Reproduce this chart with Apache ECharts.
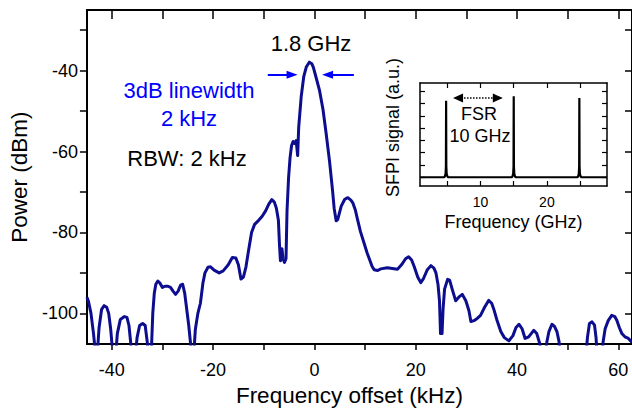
<!DOCTYPE html>
<html>
<head>
<meta charset="utf-8">
<script src="https://cdn.jsdelivr.net/npm/echarts@6/dist/echarts.min.js"></script>
<style>
html,body{margin:0;padding:0;background:#fff;}
#chart{width:632px;height:412px;}
</style>
</head>
<body>
<div id="chart"></div>
<script>
// ---- main spectrum (frequency offset kHz, power dBm) ----
var freqOffset = [-44.9,-44.6,-44.1,-43.6,-43.2,-42.8,-42.5,-42.0,-41.5,-41.0,-40.6,-40.2,-39.8,-39.2,-38.9,-38.3,-37.5,-37.0,-36.6,-36.2,-35.8,-35.3,-35.0,-34.5,-33.9,-33.4,-33.0,-32.6,-32.2,-31.9,-31.6,-31.3,-30.9,-30.5,-30.0,-29.5,-28.9,-28.4,-27.9,-27.4,-26.9,-26.4,-26.0,-25.6,-25.3,-24.8,-24.4,-23.9,-23.5,-23.0,-22.5,-22.0,-21.6,-21.0,-20.5,-19.8,-18.8,-18.0,-17.0,-16.2,-15.5,-15.0,-14.5,-14.0,-13.5,-13.0,-12.4,-11.8,-11.0,-10.3,-9.6,-9.0,-8.4,-7.9,-7.5,-7.1,-6.9,-6.7,-6.4,-6.2,-5.9,-5.6,-5.4,-5.1,-4.8,-4.5,-4.2,-3.9,-3.6,-3.3,-3.1,-2.6,-2.1,-1.6,-1.0,-0.5,-0.2,0.3,1.0,1.7,2.3,3.0,3.6,3.9,4.3,4.6,5.3,6.0,6.6,7.2,7.6,8.1,8.5,9.1,9.8,10.4,10.8,11.4,11.8,12.5,13.1,14.4,15.4,16.4,17.2,18.0,18.6,19.2,19.7,20.4,21.0,21.5,22.3,23.0,23.6,24.0,24.4,24.7,24.9,25.2,25.4,25.7,26.3,26.7,27.2,27.9,28.5,29.2,29.9,30.5,30.9,31.5,32.2,32.8,33.6,34.4,35.0,35.4,36.0,36.8,37.5,38.4,39.2,39.8,40.4,41.0,41.6,42.3,43.3,43.9,44.5,44.9,45.5,45.9,46.3,46.9,47.4,47.9,48.3,48.7,53.5,53.9,54.3,54.8,55.3,55.6,55.9,56.7,57.0,57.4,58.0,58.7,59.3,59.7,60.2,60.7,61.3,62.0,62.7];
var powerDbm = [-96.0,-97.0,-100.0,-105.0,-110.0,-109.0,-103.5,-99.0,-98.1,-98.5,-100.0,-104.0,-110.0,-110.0,-105.0,-101.5,-100.8,-101.0,-103.0,-108.0,-112.0,-110.0,-106.0,-103.0,-102.5,-103.0,-107.0,-112.0,-110.0,-100.0,-95.0,-92.8,-92.0,-92.5,-93.6,-93.3,-93.3,-93.6,-94.5,-95.3,-94.5,-93.0,-92.8,-95.0,-98.0,-103.0,-108.0,-112.0,-104.0,-100.0,-97.5,-92.5,-90.0,-88.6,-88.5,-89.3,-90.0,-89.5,-88.0,-86.2,-86.3,-88.0,-91.5,-91.0,-88.5,-84.5,-80.0,-78.0,-77.0,-76.0,-74.6,-73.0,-71.9,-72.5,-74.0,-77.0,-82.8,-87.0,-84.0,-86.5,-87.4,-86.5,-74.7,-66.6,-61.5,-58.5,-57.5,-58.0,-57.3,-61.0,-54.1,-46.4,-41.5,-39.1,-37.9,-38.3,-39.2,-41.5,-44.8,-49.6,-55.3,-62.5,-69.8,-74.0,-77.1,-76.8,-73.5,-71.8,-71.4,-72.0,-72.7,-74.5,-76.7,-79.8,-82.6,-85.0,-86.4,-88.4,-89.2,-89.4,-89.0,-88.7,-88.9,-89.1,-88.0,-86.5,-86.0,-86.8,-88.4,-91.0,-92.4,-91.5,-89.2,-88.2,-88.8,-90.0,-92.8,-97.0,-105.0,-105.0,-99.0,-94.0,-91.6,-91.8,-94.0,-96.9,-96.0,-95.3,-96.9,-99.3,-102.0,-101.8,-101.2,-100.5,-98.5,-96.8,-97.5,-98.9,-101.5,-104.5,-106.0,-106.8,-105.5,-103.5,-102.7,-103.8,-106.2,-105.8,-104.2,-105.0,-107.5,-111.0,-111.0,-107.0,-104.5,-102.7,-103.2,-104.6,-107.0,-112.0,-112.0,-106.0,-102.5,-102.1,-102.9,-106.0,-112.0,-112.0,-107.0,-103.8,-101.8,-100.5,-100.8,-101.7,-103.5,-105.0,-105.8,-106.2,-107.2];

// ---- inset: SFPI signal vs frequency (GHz) ----
var insetFreq = [0.86,4.5,4.62,4.72,4.77,4.8,4.83,4.88,4.98,5.1,14.7,14.82,14.92,14.97,15.0,15.03,15.08,15.18,15.3,24.6,24.72,24.82,24.87,24.9,24.93,24.98,25.08,25.2,29.07];
var insetSignal = [0,0,0.08,0.3,0.9,6.23,0.9,0.3,0.08,0,0,0.08,0.3,0.9,6.59,0.9,0.3,0.08,0,0,0.08,0.3,0.9,6.45,0.9,0.3,0.08,0,0];

// ---- ticks / labels ----
var xTicks = [-40,-30,-20,-10,0,10,20,30,40,50,60];
var xLabels = [-40,-20,0,20,40,60];
var yTicks = [-100,-90,-80,-70,-60,-50,-40,-30];
var yLabels = [-100,-80,-60,-40];
var insetXTicks = [5,10,15,20,25];
var insetXLabels = [10,20];
var insetYTicks = [0,1,2,3,4,5,6,7];

var FONT = '"Liberation Sans", Arial, Helvetica, sans-serif';
var mainColor = '#0d0d8f';

var chart = echarts.init(document.getElementById('chart'), null, {renderer: 'svg'});

function axisBase(extra) {
  var o = {
    type: 'value',
    splitLine: {show: false},
    axisLine: {show: true, onZero: false, lineStyle: {color: '#000', width: 2}},
    axisTick: {show: true, lineStyle: {color: '#000', width: 1.5}},
    axisLabel: {show: false}
  };
  for (var k in extra) o[k] = extra[k];
  return o;
}

var option = {
  animation: false,
  backgroundColor: '#fff',
  textStyle: {fontFamily: FONT},
  grid: [
    {left: 85, top: 10, right: 0, bottom: 61},
    {left: 420, top: 83, width: 187, height: 103}
  ],
  xAxis: [
    axisBase({
      gridIndex: 0, position: 'bottom', min: -44.9, max: 62.7,
      axisTick: {show: true, inside: false, length: 6, customValues: xTicks, lineStyle: {color: '#000', width: 1.5}},
      axisLabel: {show: true, customValues: xLabels, fontSize: 18, color: '#000', margin: 17, fontFamily: FONT},
      name: 'Frequency offset (kHz)', nameLocation: 'middle', nameGap: 35,
      nameTextStyle: {fontSize: 22.5, color: '#000', fontFamily: FONT, padding: [0, 20, 0, 0]}
    }),
    axisBase({
      gridIndex: 0, position: 'top', min: -44.9, max: 62.7,
      axisTick: {show: true, inside: true, length: 9, customValues: xTicks, lineStyle: {color: '#000', width: 1.5}}
    }),
    axisBase({
      gridIndex: 1, position: 'bottom', min: 0.86, max: 29.07,
      axisLine: {show: true, onZero: false, lineStyle: {color: '#000', width: 1.5}},
      axisTick: {show: true, inside: true, length: 5, customValues: insetXTicks, lineStyle: {color: '#000', width: 1.2}},
      axisLabel: {show: true, customValues: insetXLabels, fontSize: 14, color: '#000', margin: 9, fontFamily: FONT},
      name: 'Frequency (GHz)', nameLocation: 'middle', nameGap: 27,
      nameTextStyle: {fontSize: 18, color: '#000', fontFamily: FONT}
    }),
    axisBase({
      gridIndex: 1, position: 'top', min: 0.86, max: 29.07,
      axisLine: {show: true, onZero: false, lineStyle: {color: '#000', width: 1.5}},
      axisTick: {show: true, inside: true, length: 5, customValues: insetXTicks, lineStyle: {color: '#000', width: 1.2}}
    })
  ],
  yAxis: [
    axisBase({
      gridIndex: 0, position: 'left', min: -107.6, max: -25,
      axisTick: {show: true, inside: false, length: 7, customValues: yTicks, lineStyle: {color: '#000', width: 1.5}},
      axisLabel: {show: true, customValues: yLabels, fontSize: 18, color: '#000', margin: 9, fontFamily: FONT},
      name: 'Power (dBm)', nameLocation: 'middle', nameGap: 52,
      nameTextStyle: {fontSize: 22.5, color: '#000', fontFamily: FONT}
    }),
    axisBase({
      gridIndex: 0, position: 'right', min: -107.6, max: -25,
      axisTick: {show: true, inside: true, length: 7, customValues: yTicks, lineStyle: {color: '#000', width: 1.5}}
    }),
    axisBase({
      gridIndex: 1, position: 'left', min: -0.71, max: 7.67,
      axisLine: {show: true, onZero: false, lineStyle: {color: '#000', width: 1.5}},
      axisTick: {show: true, inside: true, length: 5, customValues: insetYTicks, lineStyle: {color: '#000', width: 1.2}},
      name: 'SFPI signal (a.u.)', nameLocation: 'middle', nameGap: 18,
      nameTextStyle: {fontSize: 18, color: '#000', fontFamily: FONT, padding: [0, 0, 0, 14]}
    }),
    axisBase({
      gridIndex: 1, position: 'right', min: -0.71, max: 7.67,
      axisLine: {show: true, onZero: false, lineStyle: {color: '#000', width: 1.5}},
      axisTick: {show: true, inside: true, length: 5, customValues: insetYTicks, lineStyle: {color: '#000', width: 1.2}}
    })
  ],
  series: [
    {
      type: 'line', xAxisIndex: 0, yAxisIndex: 0,
      data: freqOffset.map(function (f, i) { return [f, powerDbm[i]]; }),
      showSymbol: false, symbol: 'none', clip: true, silent: true,
      lineStyle: {color: mainColor, width: 3, join: 'round'},
      markLine: {
        silent: true, animation: false,
        symbol: ['none', 'triangle'], symbolSize: [8, 11],
        label: {show: false},
        lineStyle: {color: '#0000ff', width: 2, type: 'solid'},
        data: [
          [{coord: [-9.2, -41.0]}, {coord: [-4.4, -41.0]}],
          [{coord: [7.8, -41.0]}, {coord: [2.6, -41.0]}]
        ]
      }
    },
    {
      type: 'line', xAxisIndex: 2, yAxisIndex: 2,
      data: insetFreq.map(function (f, i) { return [f, insetSignal[i]]; }),
      showSymbol: false, symbol: 'none', clip: true, silent: true,
      lineStyle: {color: '#000', width: 2.2},
      markLine: {
        silent: true, animation: false,
        symbol: ['triangle', 'triangle'], symbolSize: [9, 10],
        label: {show: false},
        lineStyle: {color: '#000', width: 1.5, type: 'dotted'},
        data: [
          [{coord: [6.6, 6.45]}, {coord: [12.6, 6.45]}]
        ]
      }
    }
  ],
  graphic: [
    {type: 'text', silent: true, style: {text: '1.8 GHz', x: 311, y: 43, font: '22px ' + FONT, fill: '#000', align: 'center', verticalAlign: 'middle', textAlign: 'center', textVerticalAlign: 'middle'}},
    {type: 'text', silent: true, style: {text: '3dB linewidth', x: 189, y: 90, font: '22px ' + FONT, fill: '#0000ff', align: 'center', verticalAlign: 'middle', textAlign: 'center', textVerticalAlign: 'middle'}},
    {type: 'text', silent: true, style: {text: '2 kHz', x: 189, y: 118, font: '22px ' + FONT, fill: '#0000ff', align: 'center', verticalAlign: 'middle', textAlign: 'center', textVerticalAlign: 'middle'}},
    {type: 'text', silent: true, style: {text: 'RBW: 2 kHz', x: 187, y: 158, font: '22px ' + FONT, fill: '#000', align: 'center', verticalAlign: 'middle', textAlign: 'center', textVerticalAlign: 'middle'}},
    {type: 'text', silent: true, style: {text: 'FSR', x: 479, y: 114, font: '18px ' + FONT, fill: '#000', align: 'center', verticalAlign: 'middle', textAlign: 'center', textVerticalAlign: 'middle'}},
    {type: 'text', silent: true, style: {text: '10 GHz', x: 480, y: 136, font: '18px ' + FONT, fill: '#000', align: 'center', verticalAlign: 'middle', textAlign: 'center', textVerticalAlign: 'middle'}}
  ]
};
chart.setOption(option);
</script>
</body>
</html>
